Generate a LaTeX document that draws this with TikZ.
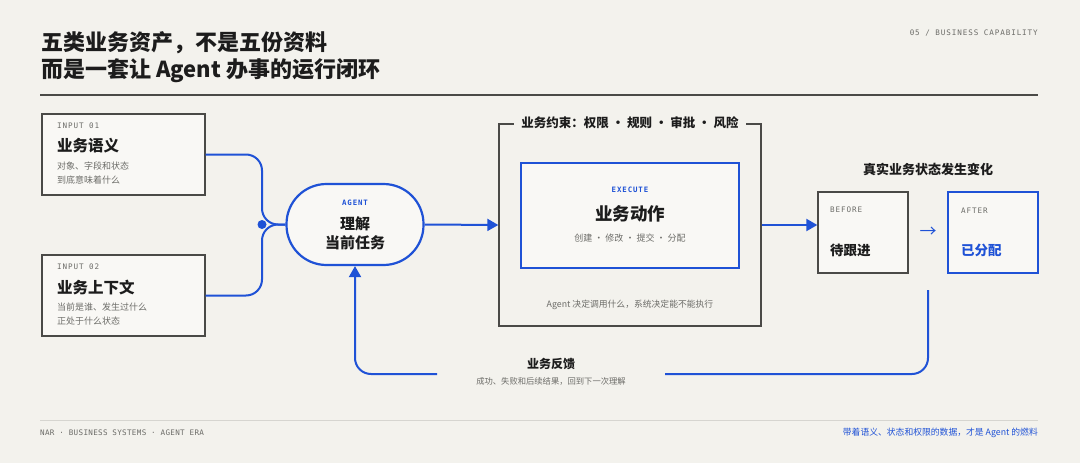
\documentclass[tikz,border=0pt]{standalone}
\usepackage{fontspec}
\setmainfont{Noto Sans CJK SC}
\newfontfamily\monolbl{DejaVu Sans Mono}[LetterSpace=12]
\newfontfamily\monotight{DejaVu Sans Mono}[LetterSpace=4]
\usetikzlibrary{arrows.meta}

\definecolor{paper}{HTML}{F3F2ED}
\definecolor{card}{HTML}{F9F8F5}
\definecolor{ink}{HTML}{1C1C1C}
\definecolor{rulegray}{HTML}{4A4A47}
\definecolor{muted}{HTML}{6C6C68}
\definecolor{faint}{HTML}{D6D5D0}
\definecolor{brand}{HTML}{1F52D6}

\tikzset{
  card/.style={draw=rulegray,line width=1.3pt,fill=card,inner sep=0pt},
  bluecard/.style={draw=brand,line width=2.2pt,fill=card,inner sep=0pt},
  flow/.style={draw=brand,line width=2pt},
  tip/.style={-{Triangle[length=11pt,width=12pt]}},
  tag/.style={font=\monolbl\fontsize{7.6}{9}\selectfont,text=muted,inner sep=0pt},
  bluetag/.style={tag,font=\monolbl\bfseries\fontsize{7.4}{9}\selectfont,text=brand},
  head/.style={font=\bfseries\fontsize{15.5}{19}\selectfont,text=ink,inner sep=0pt},
  small/.style={font=\fontsize{9}{14}\selectfont,text=muted,inner sep=0pt,align=left}
}

\begin{document}
\begin{tikzpicture}[x=1pt,y=-1pt]

  \fill[paper] (0,0) rectangle (1080,463);
  \useasboundingbox (0,0) rectangle (1080,463);

  % title block
  \begin{scope}[every node/.style={anchor=west,inner sep=0pt,text=ink,font=\bfseries\fontsize{22}{27}\selectfont}]
    \node (t1) at (41,43) {五类业务资产，不是五份资料};
    \node (t2) at (41,71) {而是一套让 Agent 办事的运行闭环};
  \end{scope}
  \node[tag,anchor=east,font=\monolbl\fontsize{7.6}{9}\selectfont] (pg) at (1038,33) {05 / BUSINESS CAPABILITY};
  \draw[rulegray,line width=1.2pt] (40,95) -- (1038,95);

  % inputs
  \node[card,minimum width=163pt,minimum height=81pt] (in1) at (123.5,154.5) {};
  \node[card,minimum width=163pt,minimum height=81pt] (in2) at (123.5,295.5) {};
  \begin{scope}[every node/.append style={anchor=west}]
    \node[tag] (in1tag) at (57,126) {INPUT 01};
    \node[head] (in1head) at (57,146) {业务语义};
    \node[small] (in1txt) at (57,173) {对象、字段和状态\\到底意味着什么};
    \node[tag] (in2tag) at (57,267) {INPUT 02};
    \node[head] (in2head) at (57,287) {业务上下文};
    \node[small] (in2txt) at (57,314) {当前是谁、发生过什么\\正处于什么状态};
  \end{scope}

  % agent
  \node[bluecard,rounded corners=40pt,minimum width=137pt,minimum height=81pt] (agent) at (355,224.5) {};
  \node[bluetag] (agenttag) at (355,203) {AGENT};
  \node[head,font=\bfseries\fontsize{15}{19}\selectfont,align=center] (agenttxt) at (355,233) {理解\\当前任务};

  \coordinate (join) at (262,224.5);
  \begin{scope}[rounded corners=16pt]
    \draw[flow] (in1.east) -| (join) -- (agent.west);
    \draw[flow] (in2.east) -| (join) -- (agent.west);
  \end{scope}
  \fill[brand] (join) circle (4.5pt);

  % constraint frame
  \node[draw=rulegray,line width=1.4pt,minimum width=262pt,minimum height=202pt,inner sep=0pt] (frame) at (630,225) {};
  \node[fill=paper,inner xsep=7pt,inner ysep=2pt,text=ink,font=\bfseries\fontsize{12.5}{15}\selectfont] (rules) at (630,123) {业务约束：权限 · 规则 · 审批 · 风险};
  \node[bluecard,minimum width=218pt,minimum height=105pt] (exec) at (630,215.5) {};
  \node[bluetag] (exectag) at (630,190) {EXECUTE};
  \node[head,font=\bfseries\fontsize{17.5}{20}\selectfont] (exechead) at (630,214) {业务动作};
  \node[small] (exectxt) at (630,238) {创建 · 修改 · 提交 · 分配};
  \node[small,font=\fontsize{8.8}{11}\selectfont] (note) at (630,305) {Agent 决定调用什么，系统决定能不能执行};

  \draw[flow,tip] (agent.east) -- (frame.west);

  % state change
  \node[text=ink,inner sep=0pt,font=\bfseries\fontsize{13}{15}\selectfont] (chg) at (928,169) {真实业务状态发生变化};
  \node[card,minimum width=90pt,minimum height=81pt] (before) at (863,232.5) {};
  \node[bluecard,minimum width=90pt,minimum height=81pt] (after) at (993,232.5) {};
  \node[tag,anchor=west] (beforetag) at (830,210) {BEFORE};
  \node[head,anchor=west,font=\bfseries\fontsize{13.5}{16}\selectfont] (beforetxt) at (830,250) {待跟进};
  \node[tag,anchor=west] (aftertag) at (961,211) {AFTER};
  \node[head,anchor=west,text=brand,font=\bfseries\fontsize{13.5}{16}\selectfont] (aftertxt) at (961,250) {已分配};
  \node[text=brand,inner sep=0pt,font=\fontsize{17}{18}\selectfont] (step) at (928,232) {→};

  \draw[flow,tip] (frame.east) -- (frame.east -| before.west);

  % feedback loop
  \coordinate (fbtop) at (928,290);
  \coordinate (fbright) at (665,374);
  \coordinate (fbleft) at (437,374);
  \node[text=ink,inner sep=0pt,font=\bfseries\fontsize{12}{14}\selectfont] (fb) at (551,364) {业务反馈};
  \node[small,font=\fontsize{8.3}{10}\selectfont] (fbtxt) at (551,381) {成功、失败和后续结果，回到下一次理解};
  \draw[flow,rounded corners=16pt] (fbtop) |- (fbright);
  \draw[flow,tip,rounded corners=16pt] (fbleft) -| (agent.south);

  % footer
  \draw[faint,line width=1pt] (40,420) -- (1038,420);
  \node[tag,anchor=west,font=\monotight\fontsize{7.6}{9}\selectfont,text=muted] (foot) at (40,433) {NAR · BUSINESS SYSTEMS · AGENT ERA};
  \node[anchor=east,inner sep=0pt,text=brand,font=\fontsize{8.8}{10}\selectfont] (claim) at (1038,433) {带着语义、状态和权限的数据，才是 Agent 的燃料};

\end{tikzpicture}
\end{document}
